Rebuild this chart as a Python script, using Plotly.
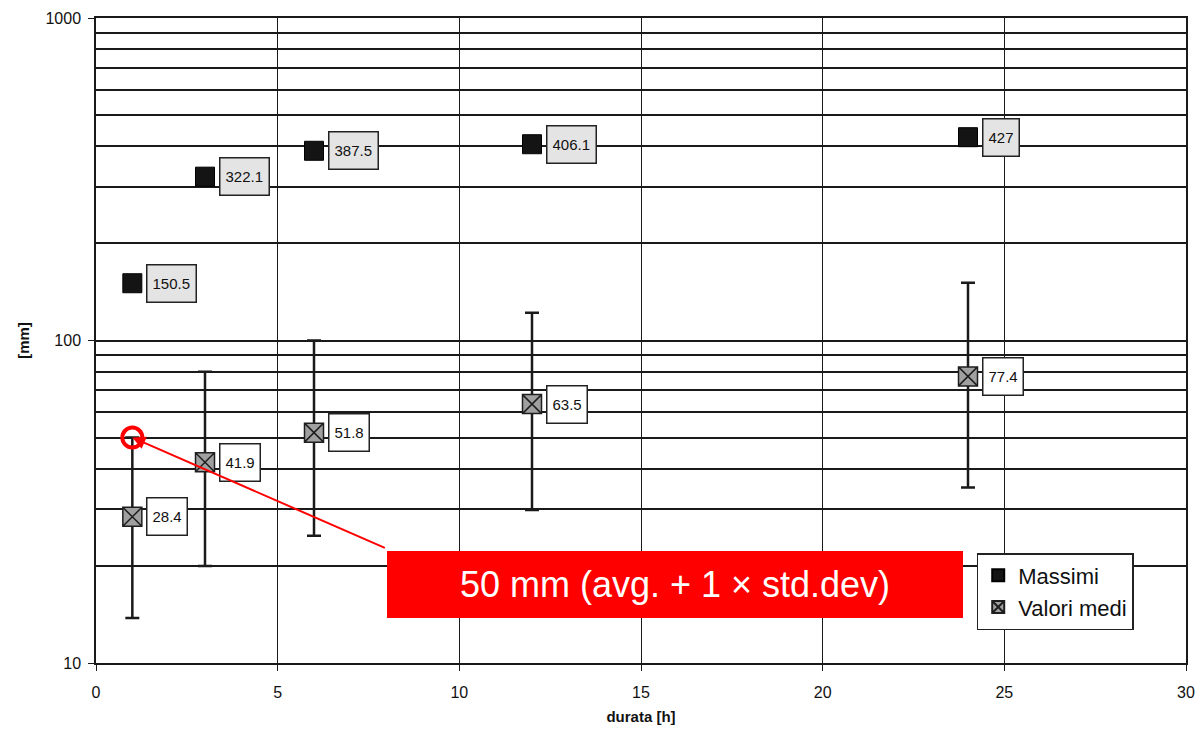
import numpy as np
import plotly.graph_objects as go

# ---- data ----
durata = [1, 3, 6, 12, 24]
massimi = [150.5, 322.1, 387.5, 406.1, 427]
medi = [28.4, 41.9, 51.8, 63.5, 77.4]
medi_upper = [50, 80, 100, 122, 151]
medi_lower = [13.8, 20.0, 24.8, 29.8, 35.0]
x_ticks = [0, 5, 10, 15, 20, 25, 30]
y_ticks = [10, 100, 1000]
y_minor = [20, 30, 40, 50, 60, 70, 80, 90, 200, 300, 400, 500, 600, 700, 800, 900]
highlight_text = "50 mm (avg. + 1 \u00d7 std.dev)"

FONT = "Liberation Sans, Arial, sans-serif"
LINE = "#1a1a1a"

err_plus = [u - m for u, m in zip(medi_upper, medi)]
err_minus = [m - l for m, l in zip(medi, medi_lower)]

fig = go.Figure()

fig.add_trace(go.Scatter(
    x=durata, y=massimi, mode="markers", name="Massimi",
    marker=dict(symbol="square", size=19, color="#141414",
                line=dict(color="#000", width=1)),
))
fig.add_trace(go.Scatter(
    x=durata, y=medi, mode="markers", name="Valori medi",
    marker=dict(symbol="square-x", size=19, color="#a0a0a0",
                line=dict(color="#1e1e1e", width=1.5)),
    error_y=dict(type="data", symmetric=False, array=err_plus, arrayminus=err_minus,
                 color=LINE, thickness=2.5, width=7),
))
# red circle highlighting avg + 1 std.dev of the 1 h duration
fig.add_trace(go.Scatter(
    x=[durata[0]], y=[medi_upper[0]], mode="markers", showlegend=False, hoverinfo="skip",
    marker=dict(symbol="circle-open", size=20, color="#ff0000", line=dict(color="#ff0000", width=4)),
))

annotations = []
for xv, yv in zip(durata, massimi):
    annotations.append(dict(
        x=xv, y=np.log10(yv), xref="x", yref="y", text=str(yv), showarrow=False,
        xanchor="left", yanchor="middle", xshift=14,
        font=dict(family=FONT, size=15, color="#111"),
        bgcolor="#e4e4e4", bordercolor="#222", borderwidth=1.5, borderpad=5, height=26,
    ))
for xv, yv in zip(durata, medi):
    annotations.append(dict(
        x=xv, y=np.log10(yv), xref="x", yref="y", text=str(yv), showarrow=False,
        xanchor="left", yanchor="middle", xshift=14,
        font=dict(family=FONT, size=15, color="#111"),
        bgcolor="#ffffff", bordercolor="#222", borderwidth=1.5, borderpad=5, height=26,
    ))

# red highlight box
annotations.append(dict(
    x=0.531, y=0.1217, xref="paper", yref="paper", text=highlight_text, showarrow=False,
    xanchor="center", yanchor="middle",
    font=dict(family=FONT, size=36, color="white"),
    bgcolor="#ff0000", bordercolor="#ff0000", borderwidth=0, borderpad=6,
    width=564, height=55,
))
# red arrow to the avg + 1 std.dev point
annotations.append(dict(
    x=durata[0], y=np.log10(medi_upper[0]), xref="x", yref="y", text="",
    showarrow=True, ax=254, ay=111, axref="pixel", ayref="pixel",
    arrowcolor="#ff0000", arrowwidth=2, arrowhead=2, arrowsize=1.3, standoff=0,
))

fig.update_layout(
    width=1188, height=717,
    margin=dict(l=88, r=10, t=10, b=62),
    paper_bgcolor="white", plot_bgcolor="white",
    font=dict(family=FONT, color="#111"),
    annotations=annotations,
    showlegend=True,
    legend=dict(
        x=0.808, y=0.1705, xanchor="left", yanchor="top",
        bgcolor="white", bordercolor="#222", borderwidth=1.5,
        font=dict(family=FONT, size=22, color="#111"),
        itemsizing="constant", itemwidth=30, tracegroupgap=0,
    ),
    xaxis=dict(
        range=[0, 30], tickvals=x_ticks, ticktext=[str(t) for t in x_ticks],
        showgrid=True, gridcolor=LINE, gridwidth=1.2,
        showline=True, linecolor=LINE, linewidth=1.5, mirror=True,
        ticks="outside", ticklen=6, tickcolor=LINE, ticklabelstandoff=8,
        tickfont=dict(family=FONT, size=16, color="#111"),
        zeroline=False, automargin=False,
        title=dict(text="<b>durata [h]</b>", font=dict(family=FONT, size=15, color="#111"), standoff=17),
    ),
    yaxis=dict(
        type="log", range=[1, 3], tickvals=y_ticks, ticktext=[str(t) for t in y_ticks],
        showgrid=True, gridcolor=LINE, gridwidth=1.8,
        showline=True, linecolor=LINE, linewidth=1.5, mirror=True,
        ticks="outside", ticklen=6, tickcolor=LINE, ticklabelstandoff=4,
        tickfont=dict(family=FONT, size=16, color="#111"),
        minor=dict(tickvals=y_minor, showgrid=True, gridcolor=LINE, gridwidth=1.8, ticks=""),
        zeroline=False, automargin=False,
        title=dict(text="<b>[mm]</b>", font=dict(family=FONT, size=15, color="#111"), standoff=12),
    ),
)

fig.write_html("out.html")
